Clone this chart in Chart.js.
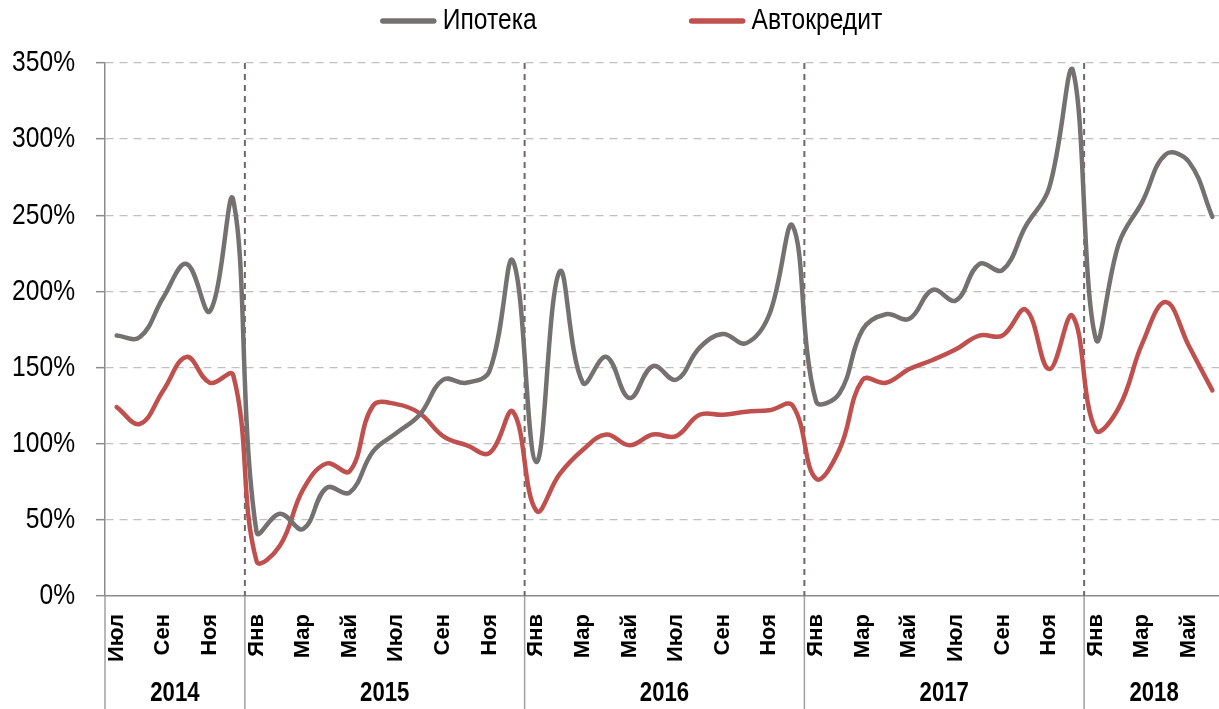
<!DOCTYPE html>
<html lang="ru">
<head>
<meta charset="utf-8">
<title>Ипотека и автокредит</title>
<script src="https://cdn.jsdelivr.net/npm/chart.js@4.4.1/dist/chart.umd.min.js"></script>
<style>
html, body { margin: 0; padding: 0; background: #fff; overflow: hidden; }
#wrap { position: relative; width: 1224px; height: 709px; }
</style>
</head>
<body>
<div id="wrap"><canvas id="chart"></canvas></div>
<script>
// Месяцы с июля 2014 по июнь 2018
const months = [
    'Июл','Авг','Сен','Окт','Ноя','Дек',
    'Янв','Фев','Мар','Апр','Май','Июн','Июл','Авг','Сен','Окт','Ноя','Дек',
    'Янв','Фев','Мар','Апр','Май','Июн','Июл','Авг','Сен','Окт','Ноя','Дек',
    'Янв','Фев','Мар','Апр','Май','Июн','Июл','Авг','Сен','Окт','Ноя','Дек',
    'Янв','Фев','Мар','Апр','Май','Июн'
];
const years = ['2014', '2015', '2016', '2017', '2018'];
const yearMonths = [6, 12, 12, 12, 6];

const ipoteka = [
    171, 170, 196, 218, 187, 260,
    42, 54, 44, 71, 68, 95, 107, 119, 142, 140, 148, 220,
    88, 213, 140, 157, 130, 151, 142, 163, 172, 166, 185, 243,
    128, 133, 175, 185, 182, 201, 194, 218, 214, 243, 268, 346,
    169, 232, 259, 290, 285, 249
];
const avtokredit = [
    124, 113, 135, 157, 140, 145,
    23, 33, 70, 87, 82, 125, 126, 120, 105, 99, 94, 121,
    56, 80, 96, 106, 99, 106, 105, 119, 119, 121, 122, 125,
    77, 96, 142, 140, 149, 155, 162, 171, 171, 188, 149, 184,
    109, 124, 166, 193, 164, 135
];

const yTicks = [0, 50, 100, 150, 200, 250, 300, 350];

const REG = "'Liberation Sans', Arial, sans-serif";
const SQUEEZE = 0.82; // узкий шрифт, как Arial Narrow

function narrowText(ctx, text, x, y) {
    ctx.save();
    ctx.translate(x, y);
    ctx.scale(SQUEEZE, 1);
    ctx.fillText(text, 0, 0);
    ctx.restore();
}

// подписи оси Y, годы под осью, разделители и легенда
const yearPlugin = {
    id: 'yearPlugin',
    beforeDatasetsDraw(chart) {
        const x = chart.scales.x, area = chart.chartArea, ctx = chart.ctx;
        ctx.save();
        ctx.strokeStyle = '#6f6868';
        ctx.lineWidth = 2;
        ctx.setLineDash([6, 5]);
        let idx = 0;
        for (let k = 0; k < yearMonths.length - 1; k++) {
            idx += yearMonths[k];
            const bx = (x.getPixelForValue(idx - 1) + x.getPixelForValue(idx)) / 2;
            ctx.beginPath();
            ctx.moveTo(bx, area.top);
            ctx.lineTo(bx, area.bottom);
            ctx.stroke();
        }
        ctx.restore();
    },
    afterDraw(chart) {
        const x = chart.scales.x, y = chart.scales.y, area = chart.chartArea, ctx = chart.ctx;
        const bottom = chart.height;
        const half = (x.getPixelForValue(1) - x.getPixelForValue(0)) / 2;
        ctx.save();
        ctx.fillStyle = '#000';

        // ось Y
        ctx.font = '30px ' + REG;
        ctx.textAlign = 'right';
        ctx.textBaseline = 'middle';
        y.ticks.forEach(t => narrowText(ctx, t.value + '%', y.right - 30, y.getPixelForValue(t.value)));

        // годы
        ctx.strokeStyle = '#a0a0a0';
        ctx.lineWidth = 1.5;
        ctx.font = 'bold 27px ' + REG;
        ctx.textAlign = 'center';
        let idx = 0;
        for (let k = 0; k < years.length; k++) {
            const a = x.getPixelForValue(idx) - half;
            const b = x.getPixelForValue(idx + yearMonths[k] - 1) + half;
            ctx.beginPath();
            ctx.moveTo(a, area.bottom);
            ctx.lineTo(a, bottom);
            ctx.stroke();
            narrowText(ctx, years[k], (a + b) / 2, bottom - 15);
            idx += yearMonths[k];
        }

        // легенда
        ctx.font = '30px ' + REG;
        ctx.textAlign = 'left';
        const lineLen = 57, textGap = 6, itemGap = 152;
        const items = chart.data.datasets.map(d => ({
            label: d.label, color: d.borderColor, w: ctx.measureText(d.label).width * SQUEEZE
        }));
        let total = 0;
        items.forEach((it, i) => { total += lineLen + textGap + it.w + (i ? itemGap : 0); });
        let cx = 631 - total / 2;
        const ly = 21;
        items.forEach(it => {
            ctx.strokeStyle = it.color;
            ctx.lineWidth = 5.5;
            ctx.lineCap = 'round';
            ctx.beginPath();
            ctx.moveTo(cx + 3, ly);
            ctx.lineTo(cx + lineLen - 3, ly);
            ctx.stroke();
            narrowText(ctx, it.label, cx + lineLen + textGap, ly);
            cx += lineLen + textGap + it.w + itemGap;
        });
        ctx.restore();
    }
};

new Chart(document.getElementById('chart').getContext('2d'), {
    type: 'line',
    data: {
        labels: months,
        datasets: [
            { label: 'Ипотека', data: ipoteka, borderColor: '#767171', backgroundColor: '#767171' },
            { label: 'Автокредит', data: avtokredit, borderColor: '#c0504d', backgroundColor: '#c0504d' }
        ]
    },
    options: {
        responsive: true,
        maintainAspectRatio: false,
        animation: false,
        layout: { padding: { top: 63, left: 0, right: 0, bottom: 0 } },
        elements: {
            line: { borderWidth: 4.5, tension: 0.4, borderCapStyle: 'round', borderJoinStyle: 'round' },
            point: { radius: 0, hoverRadius: 0 }
        },
        plugins: { legend: { display: false }, tooltip: { enabled: false } },
        scales: {
            x: {
                offset: true,
                grid: { display: false },
                border: { display: true, color: '#8c8c8c', width: 1.5 },
                ticks: {
                    autoSkip: false,
                    maxRotation: 90,
                    minRotation: 90,
                    padding: 10,
                    color: '#000',
                    font: { family: REG, size: 22, weight: 'bold' },
                    callback: (v, i) => (i % 2 === 0 ? months[i] : '')
                },
                afterFit: s => { s.height = 113; s.paddingLeft = 0; s.paddingRight = 0; }
            },
            y: {
                min: yTicks[0],
                max: yTicks[yTicks.length - 1],
                afterBuildTicks: s => { s.ticks = yTicks.map(v => ({ value: v })); },
                grid: {
                    color: c => (c.tick && c.tick.value === 0 ? 'rgba(0,0,0,0)' : '#c0c0c0'),
                    lineWidth: 1.3,
                    tickColor: '#8c8c8c',
                    tickLength: 9,
                    tickWidth: 1.5
                },
                border: { display: true, color: '#8c8c8c', width: 1.5, dash: [8, 6] },
                ticks: { display: false },
                afterFit: s => { s.width = 105; s.paddingTop = 0; s.paddingBottom = 0; }
            }
        }
    },
    plugins: [yearPlugin]
});
</script>
</body>
</html>
